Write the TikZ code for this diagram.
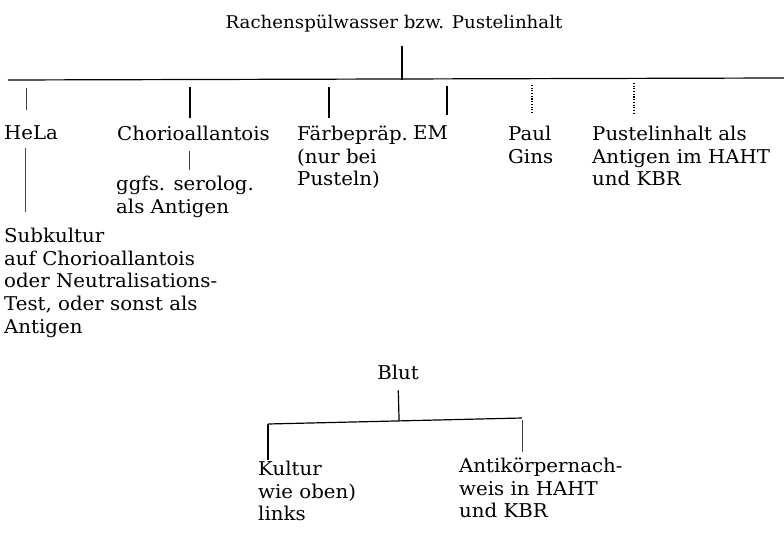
\documentclass[tikz,border=0pt]{standalone}
\usepackage{fontspec}
\setmainfont{DejaVu Serif}[FakeStretch=1.04]
\usepackage{tikz}
\usetikzlibrary{positioning, calc}

\newcommand{\lblfont}{\fontsize{19}{22.8}\selectfont}
\newcommand{\headfont}{\fontsize{17.5}{21}\selectfont}

\begin{document}
\begin{tikzpicture}[
    x=1pt, y=1pt,
    lbl/.style={anchor=north west, yshift=14.4pt, inner sep=0pt, align=left, font=\lblfont},
    head/.style={anchor=base, inner sep=0pt, font=\headfont},
    branch/.style={line width=1.2pt},
    faint/.style={line width=0.6pt, black!75},
    dots/.style={line width=1.1pt, dash pattern=on 1.1pt off 1.6pt}
]
    \useasboundingbox (0,0) rectangle (784,-534);

    % Rachen / Pustel
    \node[head] (rachen) at (394,-29) {Rachenspülwasser bzw. Pustelinhalt};
    \coordinate (barL) at (8,-80);
    \coordinate (barR) at (784,-78);
    \draw[branch] (barL) -- (barR);

    \node[lbl] (hela)   at (4,-140)   {HeLa};
    \node[lbl] (chorio) at (117,-140) {Chorioallantois};
    \node[lbl] (faerbe) at (297,-140) {Färbepräp.\\(nur bei\\Pusteln)};
    \node[lbl] (em)     at (413,-140) {EM};
    \node[lbl] (paul)   at (508,-140) {Paul\\Gins};
    \node[lbl] (pustel) at (592,-140) {Pustelinhalt als\\Antigen im HAHT\\und KBR};
    \node[lbl] (serol)  at (116,-190) {ggfs. serolog.\\als Antigen};
    \node[lbl] (subk)   at (4,-242)   {Subkultur\\auf Chorioallantois\\oder Neutralisations-\\Test, oder sonst als\\Antigen};

    % drops from the bar
    \coordinate (bHela)   at (26,-80);
    \coordinate (bChorio) at (190,-80);
    \coordinate (bFaerbe) at (329,-80);
    \coordinate (bEm)     at (447,-79);
    \coordinate (bPaul)   at (532,-79);
    \coordinate (bPustel) at (634,-78);
    \draw[branch, shorten <=13pt] (rachen.south -| 402,0) -- (402,-80);
    \draw[faint, shorten <=8pt, shorten >=15.6pt] (bHela) -- (bHela |- hela.north);
    \draw[branch, shorten <=7pt, shorten >=7.6pt] (bChorio) -- (bChorio |- chorio.north);
    \draw[branch, shorten <=7pt, shorten >=7.6pt] (bFaerbe) -- (bFaerbe |- faerbe.north);
    \draw[branch, shorten <=7pt, shorten >=11pt] (bEm) -- (bEm |- em.north);
    \draw[dots, shorten <=6pt, shorten >=11pt] (bPaul) -- (bPaul |- paul.north);
    \draw[dots, shorten <=5pt, shorten >=12pt] (bPustel) -- (bPustel |- pustel.north);
    \draw[faint, shorten <=10pt, shorten >=6pt] (chorio.south -| 189,0) -- (serol.north -| 189,0);
    \draw[faint, shorten <=8pt, shorten >=15.6pt] (hela.south -| 25,0) -- (subk.north -| 25,0);

    % Blut
    \node[head, font=\lblfont] (blut) at (398,-379) {Blut};
    \coordinate (cL) at (268,-424);
    \coordinate (cR) at (522,-418);
    \coordinate (cMid) at ($(cL)!0.516!(cR)$);
    \draw[branch] (cL) -- (cR);
    \draw[branch, shorten <=11pt] (blut.south) -- (cMid);
    \node[lbl] (kultur) at (258,-475) {Kultur\\wie oben)\\links};
    \node[lbl] (antik)  at (459,-472) {Antikörpernach-\\weis in HAHT\\und KBR};
    \draw[branch, shorten >=1pt] (cL) -- (cL |- kultur.north);
    \draw[faint, shorten <=2pt, shorten >=5.6pt] (cR) -- (cR |- antik.north);
\end{tikzpicture}
\end{document}
